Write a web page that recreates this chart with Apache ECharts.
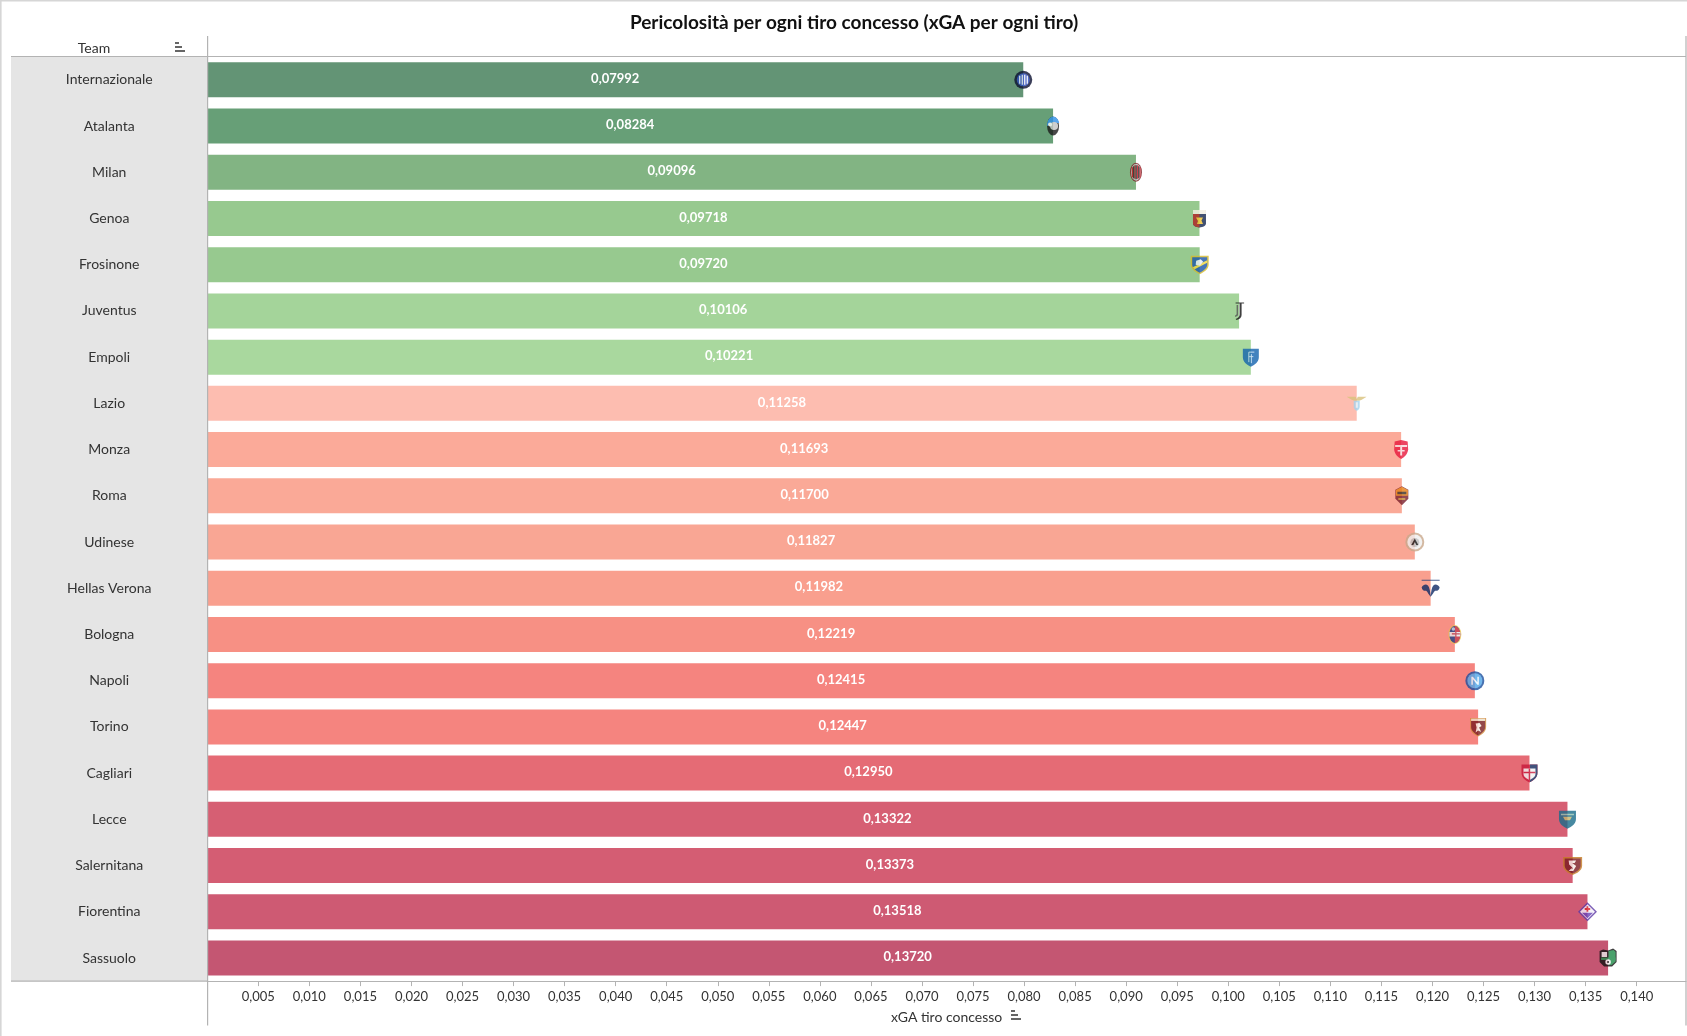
<!DOCTYPE html>
<html lang="it">
<head>
<meta charset="utf-8">
<title>Pericolosità per ogni tiro concesso</title>
<style>html,body{margin:0;padding:0;background:#fff}#chart{width:1687px;height:1036px}</style>
<script src="https://cdn.jsdelivr.net/npm/echarts@6/dist/echarts.min.js"></script>
</head>
<body>
<div id="chart"></div>
<script>
const teams = ['Internazionale','Atalanta','Milan','Genoa','Frosinone','Juventus','Empoli','Lazio','Monza','Roma','Udinese','Hellas Verona','Bologna','Napoli','Torino','Cagliari','Lecce','Salernitana','Fiorentina','Sassuolo'];
const xgaPerShot = [0.07992,0.08284,0.09096,0.09718,0.09720,0.10106,0.10221,0.11258,0.11693,0.11700,0.11827,0.11982,0.12219,0.12415,0.12447,0.12950,0.13322,0.13373,0.13518,0.13720];
const barColors = ['#639475','#679F77','#82B483','#97C98F','#97C98F','#A4D49A','#A9D89E','#FDBDB0','#FBAA99','#FAA997','#F9A694','#F99F8E','#F79084','#F5847F','#F5847F','#E56B75','#D65F73','#D45D73','#CE5A73','#C45672'];
const title = 'Pericolosità per ogni tiro concesso (xGA per ogni tiro)';
const axisName = 'xGA tiro concesso';
const headerName = 'Team';

const shield = 'M6 3H34V22C34 30 26 35 20 38C14 35 6 30 6 22Z';
const crests = {
  'Internazionale':'<circle cx="20" cy="20" r="18" fill="#0b1030"/><circle cx="20" cy="20" r="13" fill="#2a49b8"/><path d="M13 12V28M18 10V30M23 10V30M28 12V28" stroke="#fff" stroke-width="2.4"/>',
  'Atalanta':'<ellipse cx="20" cy="20" rx="12" ry="19" fill="#1b1b1b"/><path d="M8 20C8 8 14 1 20 1C26 1 32 8 32 14L20 14Z" fill="#2f8fe8"/><circle cx="22" cy="20" r="8" fill="#c4c4c4"/><circle cx="14" cy="17" r="4" fill="#fff"/>',
  'Milan':'<ellipse cx="20" cy="20" rx="12" ry="19" fill="#7c1b20"/><ellipse cx="20" cy="20" rx="10" ry="17" fill="#bdbdbd"/><path d="M13 10V30M18 6V33M23 6V33M28 10V30" stroke="#c8101c" stroke-width="2.6"/><path d="M15.5 8V32M20.5 6V34M25.5 8V32" stroke="#111" stroke-width="2.2"/>',
  'Genoa':'<path d="M7 3H33V30C33 35 27 37 20 38C13 37 7 35 7 30Z" fill="#14264f"/><path d="M7 3H33V11H7Z" fill="#f3efe2"/><path d="M7 11H20V38C13 37 7 35 7 30Z" fill="#b01e22"/><path d="M13 18H27L24 24L27 31H15L17 25Z" fill="#efc02a"/>',
  'Frosinone':'<path d="M2 2H38V20C38 29 28 35 20 39C12 35 2 29 2 20Z" fill="#d4b92a"/><path d="M5 5H35V20C35 27 27 32 20 36C13 32 5 27 5 20Z" fill="#1a55a8"/><path d="M6 25L35 11V16L10 29Z" fill="#f0d63a"/><path d="M13 12L22 9L27 14L20 22L12 20Z" fill="#e8eef6"/>',
  'Juventus':'<path d="M13 3H30V5H25V28C25 33 21 37 15 38L13 36C18 34 21 31 21 27V5H13Z" fill="#111"/><path d="M15 8H18V27C18 30 15 31 12 32V29C14 28 15 27 15 25Z" fill="#555"/>',
  'Empoli':'<path d="M4 3H36V20C36 30 27 35 20 39C13 35 4 30 4 20Z" fill="#1464ae"/><path d="M16 10H27M16 10V30M16 19H25M21 14V32" stroke="#b9d6ee" stroke-width="2" fill="none"/>',
  'Lazio':'<path d="M0 7H18L20 12L22 7H40L30 13L25 15H15L10 13Z" fill="#d9c27c"/><path d="M14 15H26V27C26 31 23 34 20 35C17 34 14 31 14 27Z" fill="#a5d3ee"/><path d="M18 18H22V29H18Z" fill="#e8f4fb"/>',
  'Monza':'<path d="M7 4L20 1L33 4L34 20C33 30 26 35 20 39C14 35 7 30 6 20Z" fill="#e8173c"/><path d="M8 11H32V15H8ZM18 15H22V32H18ZM13 21H27V24H13Z" fill="#f7d8dd"/>',
  'Roma':'<path d="M20 1L33 8V26L20 39L7 26V8Z" fill="#7a1f2b"/><path d="M20 2L32 8.5V20H8V8.5Z" fill="#e57f14"/><path d="M11 12H29V17H11Z" fill="#3a2c22"/><path d="M13 25H27V28H13Z" fill="#d9a83a"/>',
  'Udinese':'<circle cx="20" cy="20" r="19" fill="#c9a88c"/><circle cx="20" cy="20" r="15" fill="#efefef"/><circle cx="20" cy="21" r="9" fill="#bdbdbd"/><path d="M13 26L20 13L27 26H23L20 20L17 26Z" fill="#111"/>',
  'Hellas Verona':'<path d="M2 3H38V5H2Z" fill="#23407c"/><path d="M2 18C6 12 11 11 15 15C18 19 19 26 20 36C21 26 22 19 25 15C29 11 34 12 38 18C37 24 33 26 29 25C26 27 24 33 20 37C16 33 14 27 11 25C7 26 3 24 2 18Z" fill="#0e2a66"/>',
  'Bologna':'<ellipse cx="20" cy="20" rx="13" ry="19" fill="#e9c14b"/><ellipse cx="20" cy="20" rx="11" ry="17" fill="#1d3f86"/><path d="M20 3C25 4 31 10 31 20C31 30 25 36 20 37Z" fill="#c8202f"/><path d="M9 15H31V24H9Z" fill="#e8e8e8"/><path d="M22 9V33M14 19H30" stroke="#b5283a" stroke-width="2.5"/><circle cx="17" cy="9" r="3.5" fill="#a8c8e8"/>',
  'Napoli':'<circle cx="20" cy="20" r="19" fill="#1d4f9e"/><circle cx="20" cy="20" r="15" fill="#50a6e8"/><path d="M13 28V12H16L25 23V12H28V28H25L16 17V28Z" fill="#eef7fd"/>',
  'Torino':'<path d="M4 2H36V20C36 30 27 35 20 39C13 35 4 30 4 20Z" fill="#d08a3a"/><path d="M6 8H34V20C34 28 26 33 20 37C14 33 6 28 6 20Z" fill="#7a1c1e"/><path d="M6 3.5H34V8H6Z" fill="#eadfca"/><path d="M15 13L23 12L27 18L22 21L26 30L20 27L15 31L17 21Z" fill="#f5ece0"/>',
  'Cagliari':'<path d="M4 3H36V20C36 30 27 35 20 39C13 35 4 30 4 20Z" fill="#c8183a"/><path d="M21 3H36V20C36 30 27 35 21 38.5Z" fill="#14285c"/><path d="M8 11H32V22C32 28 26 31 20 34C14 31 8 28 8 22Z" fill="#f2f2f2"/><path d="M20 11V34M8 19H32" stroke="#c8183a" stroke-width="3"/>',
  'Lecce':'<path d="M3 3H37V20C37 30 27 35 20 39C13 35 3 30 3 20Z" fill="#1a6c8a"/><path d="M7 9H33V12H7Z" fill="#8fc0b0"/><path d="M11 15H29L25 22H15Z" fill="#c2b76e"/>',
  'Salernitana':'<path d="M1 3H39V20C39 30 28 36 20 39C12 36 1 30 1 20Z" fill="#c47a22"/><path d="M4 6H36V20C36 28 27 33 20 36C13 33 4 28 4 20Z" fill="#7a1a20"/><path d="M12 10H27L24 15H19L27 21L21 31H12L17 26H21L13 18Z" fill="#f3e9e4"/>',
  'Fiorentina':'<path d="M20 1L39 20L20 39L1 20Z" fill="#5e3aa6"/><path d="M20 5L35 20L20 35L5 20Z" fill="#f4f1fa"/><path d="M20 33L9 22H31Z" fill="#6a44b8"/><path d="M20 9V20M14.5 14.5H25.5" stroke="#d9262e" stroke-width="3.6"/>',
  'Sassuolo':'<path d="M3 6L10 3L20 5L30 1L37 6V28L28 37H12L3 28Z" fill="#111"/><path d="M21 6L31 4L35 8V27L27 34H21Z" fill="#1e8a48"/><path d="M6 19H35V24H6Z" fill="#1e8a48"/><path d="M7 8H18V18H7Z" fill="#e8e8e8"/><circle cx="20" cy="28" r="5.5" fill="#f2f2f2"/><circle cx="20" cy="28" r="2" fill="#111"/>'
};
function crestSymbol(team){
  const svg = '<svg xmlns="http://www.w3.org/2000/svg" width="80" height="80" viewBox="0 0 40 40">' + crests[team] + '</svg>';
  return 'image://data:image/svg+xml;charset=utf-8,' + encodeURIComponent(svg);
}
const font = 'Lato, "Open Sans", sans-serif';
const ink = '#333333';
const rule = '#b3b3b3';
function sortIcon(x, y){
  return {type:'group', x, y, children:[
    {type:'rect', shape:{x:0,y:0,width:4,height:2}, style:{fill:'#666'}},
    {type:'rect', shape:{x:0,y:4,width:7,height:2}, style:{fill:'#666'}},
    {type:'rect', shape:{x:0,y:8,width:10,height:2}, style:{fill:'#666'}}
  ]};
}
function hline(x1,x2,y,c,w){return {type:'line',shape:{x1,y1:y,x2,y2:y},style:{stroke:c||rule,lineWidth:w||1.2},z:5};}
function vline(x,y1,y2,c,w){return {type:'line',shape:{x1:x,y1,x2:x,y2},style:{stroke:c||rule,lineWidth:w||1.2},z:5};}

const chart = echarts.init(document.getElementById('chart'), null, {renderer:'canvas'});
chart.setOption({
  animation:false,
  backgroundColor:'#ffffff',
  title:{text:title,left:849,top:8,textAlign:'center',textStyle:{fontFamily:font,fontWeight:'bold',fontSize:19,color:'#111'}},
  grid:{left:207.25,right:1,top:56.7,bottom:54.9,containLabel:false},
  xAxis:{
    type:'value',min:0,max:0.14483,interval:0.005,
    name:axisName,nameLocation:'middle',nameGap:29,
    nameTextStyle:{fontFamily:font,fontSize:14,color:ink,letterSpacing:0.3},
    axisLine:{show:true,lineStyle:{color:rule,width:1.2}},
    axisTick:{show:true,length:5,lineStyle:{color:rule}},
    splitLine:{show:false},
    axisLabel:{show:true,showMinLabel:false,showMaxLabel:false,margin:9,fontFamily:font,fontSize:13,color:ink,
      formatter:v=>v.toFixed(3).replace('.',',')}
  },
  yAxis:{
    type:'category',data:teams,inverse:true,
    axisLine:{show:false},axisTick:{show:false},
    axisLabel:{align:'center',margin:98,fontFamily:font,fontSize:14,color:ink}
  },
  series:[
    {type:'bar',data:xgaPerShot.map((v,i)=>({value:v,itemStyle:{color:barColors[i]}})),barWidth:35,
      label:{show:true,position:'inside',fontFamily:font,fontWeight:'bold',fontSize:13,color:'#fff',offset:[0,-1],
        formatter:p=>p.value.toFixed(5).replace('.',',')}},
    {type:'scatter',z:4,silent:true,
      data:teams.map((t,i)=>({value:[xgaPerShot[i],t],symbol:crestSymbol(t)})),symbolSize:20}
  ],
  graphic:[
    {type:'rect',shape:{x:11,y:57,width:196.5,height:924},style:{fill:'#e5e5e5'},z:-10},
    hline(0,1687,0.8,'#d6d6d6',1.6),
    vline(0.8,0,1036,'#d6d6d6',1.6),
    hline(11,1686,56.5),
    hline(11,207.5,981.2),
    vline(207.6,36,1025.5),
    vline(1686,36,1025.5),
    {type:'text',x:94,y:48,style:{text:headerName,fontFamily:font,fontSize:14,fill:ink,textAlign:'center',textVerticalAlign:'middle'},z:6},
    Object.assign(sortIcon(175,42),{z:6}),
    Object.assign(sortIcon(1011,1010),{z:6})
  ]
});
</script>
</body>
</html>
